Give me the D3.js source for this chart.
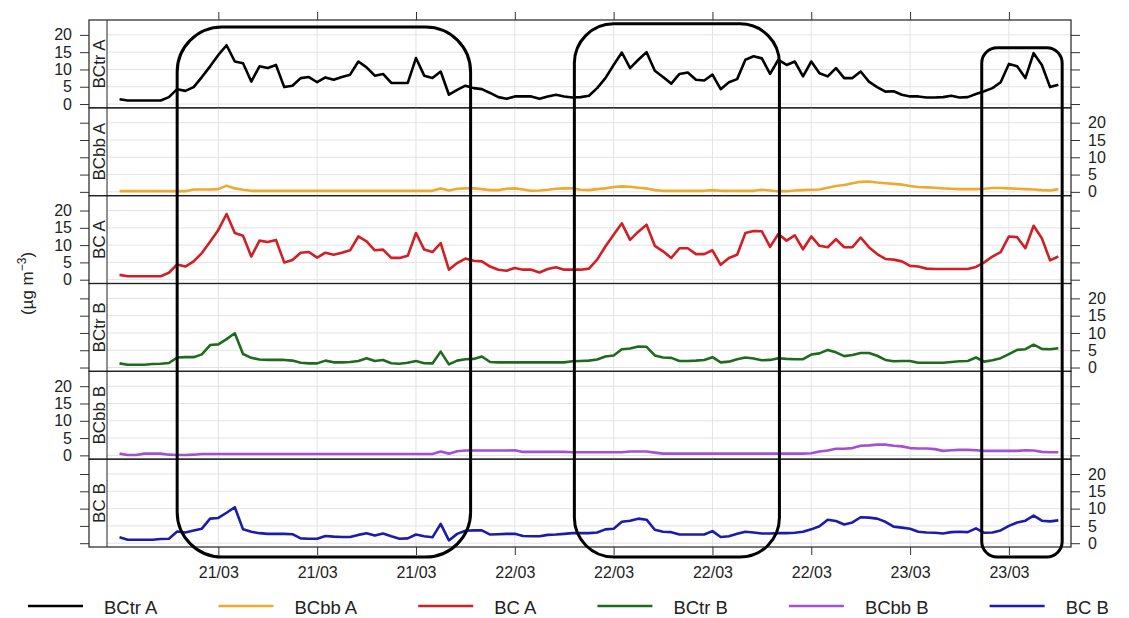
<!DOCTYPE html>
<html>
<head>
<meta charset="utf-8">
<script src="https://cdn.jsdelivr.net/npm/d3@7"></script>
<style>
  body { margin: 0; background: #fff; }
  svg { display: block; }
  text { font-family: "Liberation Sans", Arial, sans-serif; fill: #222; }
</style>
</head>
<body>
<div id="chart"></div>
<script>
// half-hourly values, first one at 21/03 00:00
const startTime = Date.UTC(2019, 2, 21, 0, 0);
const stepMinutes = 30;

const seriesNames = ['BCtr A', 'BCbb A', 'BC A', 'BCtr B', 'BCbb B', 'BC B'];
const seriesColors = ['#000000', '#efa92f', '#d21f26', '#1e6b1e', '#a54fd5', '#1b1bad'];

const bctrA = [1.4,1.0,1.0,1.0,1.0,1.0, 2.0,4.3,3.8,4.9, 7.8,10.9,14.2,17.0, 12.3,11.8,6.5,10.9,
  10.4,11.3,4.9,5.3, 7.5,7.8,6.3,7.7, 7.0,7.8,8.5,12.3, 10.6,8.2,8.7,6.1, 6.1,6.1,13.3,8.2,
  7.5,9.4,2.7,4.1, 5.3,4.6,4.3,3.2, 2.0,1.5,2.2,2.2, 2.2,1.5,2.2,2.7, 2.2,1.9,2.0,2.4,
  4.6,7.5,11.3,14.9, 10.4,12.8,15.0,9.6, 7.8,5.9,8.7,9.1, 7.0,6.8,8.5,4.3, 6.3,7.2,12.8,13.8,
  13.2,8.7,12.8,11.3, 12.3,8.0,12.3,8.9, 8.0,10.4,7.5,7.5, 9.4,6.5,4.9,3.6, 3.7,2.7,2.2,2.2,
  1.9,1.9,2.0,2.4, 1.9,2.0,2.9,3.7, 4.6,6.3,11.6,10.9, 7.5,14.7,11.3,4.9, 5.6];

const bcbbA = [0.2,0.2,0.2,0.2,0.2,0.2, 0.2,0.2,0.2,0.7, 0.7,0.7,0.8,1.8, 1.0,0.6,0.3,0.3,
  0.3,0.3,0.3,0.3, 0.3,0.3,0.3,0.3, 0.3,0.3,0.3,0.3, 0.3,0.3,0.3,0.3, 0.3,0.3,0.3,0.3,
  0.3,1.0,0.4,0.9, 1.0,1.0,0.8,0.5, 0.5,0.9,1.0,0.7, 0.3,0.4,0.6,0.9, 1.0,1.0,0.6,0.5,
  0.8,1.0,1.4,1.6, 1.5,1.2,1.0,0.5, 0.3,0.3,0.3,0.3, 0.3,0.3,0.5,0.3, 0.3,0.3,0.3,0.3,
  0.6,0.4,0.2,0.2, 0.4,0.5,0.6,0.7, 1.2,1.7,2.0,2.5, 2.9,3.0,2.7,2.5, 2.3,2.1,1.7,1.4,
  1.3,1.2,1.0,0.9, 0.8,0.8,0.8,0.9, 1.1,1.1,1.0,0.9, 0.8,0.7,0.5,0.4, 0.8];

const bcA = [1.4,1.0,1.0,1.0,1.0,1.0, 2.0,4.4,3.8,5.3, 7.7,11.0,14.4,19.0, 13.5,12.7,6.7,11.3,
  10.9,11.5,5.0,5.7, 7.8,8.0,6.4,7.8, 7.2,7.8,8.5,12.5, 11.1,8.5,8.7,6.3, 6.3,6.9,13.5,8.7,
  8.0,10.6,2.9,4.8, 6.1,5.5,5.3,3.8, 2.9,2.6,3.4,2.9, 2.9,2.1,3.1,3.6, 2.9,2.9,2.9,3.2,
  5.8,9.6,13.0,16.3, 11.5,13.9,15.9,9.8, 8.2,6.3,9.1,9.1, 7.4,7.4,8.5,4.3, 6.3,7.2,13.5,14.1,
  14.0,9.5,13.2,11.3, 12.8,8.8,12.5,9.8, 9.4,11.7,9.4,9.4, 12.2,9.4,7.4,6.0, 5.8,5.3,4.0,3.8,
  3.2,3.1,3.1,3.1, 3.1,3.1,3.7,5.0, 6.7,8.0,12.5,12.3, 9.1,15.6,12.0,5.6, 6.7];

const bctrB = [1.2,0.8,0.8,0.8,1.0,1.1, 1.3,2.9,3.0,3.0, 3.8,6.5,6.7,8.2, 9.9,3.9,2.8,2.3,
  2.2,2.2,2.2,2.0, 1.4,1.2,1.2,2.0, 1.5,1.5,1.6,1.9, 2.7,1.9,2.2,1.25, 1.1,1.4,1.9,1.25,
  1.2,4.6,0.9,2.0, 2.4,2.5,3.2,1.6, 1.5,1.5,1.5,1.5, 1.5,1.5,1.5,1.5, 1.5,1.8,1.9,2.0,
  2.3,3.2,3.5,5.3, 5.5,6.1,6.0,3.5, 2.9,2.8,1.9,1.9, 2.0,2.2,3.0,1.5, 1.7,2.4,2.9,2.6,
  2.1,2.2,2.7,2.5, 2.4,2.4,3.75,4.1, 5.1,4.4,3.3,3.6, 4.2,4.2,3.4,2.2, 1.8,1.9,1.9,1.4,
  1.4,1.4,1.4,1.6, 1.8,1.9,2.9,1.7, 2.1,2.7,3.9,5.1, 5.3,6.6,5.4,5.3, 5.6];

const bcbbB = [0.5,0.1,0.1,0.5,0.5,0.5, 0.2,0.1,0.1,0.2, 0.4,0.4,0.4,0.4, 0.4,0.4,0.4,0.4,
  0.4,0.4,0.4,0.4, 0.4,0.4,0.4,0.4, 0.4,0.4,0.4,0.4, 0.4,0.4,0.4,0.4, 0.4,0.4,0.4,0.4,
  0.4,1.1,0.5,1.2, 1.4,1.4,1.4,1.4, 1.4,1.4,1.5,1.0, 1.0,1.0,1.0,1.0, 1.0,0.9,0.9,0.9,
  0.9,0.9,0.9,0.9, 1.1,1.1,1.1,0.8, 0.5,0.5,0.5,0.5, 0.5,0.5,0.5,0.5, 0.5,0.5,0.5,0.5,
  0.5,0.5,0.5,0.5, 0.5,0.5,0.6,1.1, 1.4,1.9,1.9,2.1, 2.8,2.9,3.1,3.1, 2.8,2.6,2.1,2.0,
  2.0,1.8,1.3,1.5, 1.6,1.6,1.5,1.3, 1.3,1.3,1.3,1.3, 1.5,1.4,1.0,0.9, 0.9];

const bcB = [1.7,1.0,1.0,1.0,1.0,1.2, 1.3,3.4,3.1,3.7, 4.2,7.1,7.3,8.8, 10.4,4.0,3.3,2.9,
  2.7,2.7,2.7,2.6, 1.4,1.3,1.3,2.1, 1.9,1.8,1.8,2.4, 2.9,2.2,2.8,2.0, 1.3,1.4,2.5,2.0,
  1.7,5.6,0.8,2.7, 3.6,3.7,3.7,2.5, 2.6,2.7,2.7,2.1, 2.0,2.0,2.4,2.5, 2.7,2.9,2.9,2.9,
  3.1,4.0,4.2,6.2, 6.5,7.1,6.8,3.9, 3.3,3.2,2.5,2.5, 2.5,2.5,3.5,1.8, 2.0,2.7,3.3,3.1,
  2.8,2.8,2.9,2.9, 3.0,3.3,4.0,4.9, 6.8,6.4,5.4,6.0, 7.5,7.4,7.1,6.2, 4.8,4.5,4.2,3.3,
  3.1,3.0,2.8,3.2, 3.3,3.2,4.3,3.0, 3.1,3.7,5.0,6.0, 6.5,8.0,6.5,6.3, 6.6];

const seriesValues = [bctrA, bcbbA, bcA, bctrB, bcbbB, bcB];

const xTickTimes = ['2019-03-21T06:00Z', '2019-03-21T12:00Z', '2019-03-21T18:00Z',
  '2019-03-22T00:00Z', '2019-03-22T06:00Z', '2019-03-22T12:00Z', '2019-03-22T18:00Z',
  '2019-03-23T00:00Z', '2019-03-23T06:00Z'];
const yTicks = [0, 5, 10, 15, 20];

// highlighted periods (rounded boxes drawn over all panels)
const highlightFrom = ['2019-03-21T03:30Z', '2019-03-22T03:37Z', '2019-03-23T04:21Z'];
const highlightTo = ['2019-03-21T21:19Z', '2019-03-22T16:04Z', '2019-03-23T09:14Z'];
const highlightTop = [22.3, 23.2, 16.3];

// layout
const width = 1129;
const height = 618;
const frameLeft = 89;
const plotLeft = 107;
const plotRight = 1071;
const plotTop = 20;
const plotBottom = 547;
const panelH = (plotBottom - plotTop) / seriesNames.length;

const hour = 3600 * 1000;
const times = bctrA.map((v, i) => new Date(startTime + i * stepMinutes * 60 * 1000));

const x = d3.scaleUtc()
  .domain([new Date(startTime - 0.76 * hour), new Date(startTime + 57.77 * hour)])
  .range([plotLeft, plotRight]);

const y = d3.scaleLinear().domain([-1.1, 24.3]).range([panelH, 0]);

const svg = d3.select('#chart').append('svg')
  .attr('width', width)
  .attr('height', height);

const tickDates = xTickTimes.map((t) => new Date(t));
const fmt = d3.utcFormat('%d/%m');

const line = d3.line()
  .x((d) => x(d.t))
  .y((d) => y(d.v));

seriesNames.forEach((name, i) => {
  const g = svg.append('g')
    .attr('class', 'panel')
    .attr('transform', `translate(0,${plotTop + i * panelH})`);

  // grid
  g.append('g').selectAll('line.v')
    .data(tickDates)
    .join('line')
    .attr('x1', (d) => x(d)).attr('x2', (d) => x(d))
    .attr('y1', 0).attr('y2', panelH)
    .attr('stroke', '#e3e3e3').attr('stroke-width', 1);

  g.append('g').selectAll('line.h')
    .data(yTicks)
    .join('line')
    .attr('x1', plotLeft).attr('x2', plotRight)
    .attr('y1', (d) => y(d)).attr('y2', (d) => y(d))
    .attr('stroke', '#e3e3e3').attr('stroke-width', 1);

  const pts = seriesValues[i].map((v, j) => ({ t: times[j], v }));
  g.append('path')
    .datum(pts)
    .attr('d', line)
    .attr('fill', 'none')
    .attr('stroke', seriesColors[i])
    .attr('stroke-width', 2.6)
    .attr('stroke-linejoin', 'round');

  // y axes: labels alternate left / right, ticks on both sides
  const labelLeft = i % 2 === 0;
  const left = g.append('g')
    .attr('transform', `translate(${frameLeft},0)`)
    .call(d3.axisLeft(y).tickValues(yTicks).tickSize(9).tickPadding(8)
      .tickFormat(labelLeft ? d3.format('d') : ''));
  const right = g.append('g')
    .attr('transform', `translate(${plotRight},0)`)
    .call(d3.axisRight(y).tickValues(yTicks).tickSize(9).tickPadding(8)
      .tickFormat(labelLeft ? '' : d3.format('d')));
  [left, right].forEach((ax) => {
    ax.select('.domain').remove();
    ax.selectAll('line').attr('stroke', '#333');
    ax.selectAll('text').style('font-size', '16px').attr('fill', '#222');
  });

  // strip + frame
  g.append('line')
    .attr('x1', plotLeft).attr('x2', plotLeft)
    .attr('y1', 0).attr('y2', panelH)
    .attr('stroke', '#222');
  g.append('rect')
    .attr('x', frameLeft).attr('y', 0)
    .attr('width', plotRight - frameLeft).attr('height', panelH)
    .attr('fill', 'none').attr('stroke', '#222').attr('stroke-width', 1.2);

  g.append('text')
    .attr('transform', `translate(${(frameLeft + plotLeft) / 2 + 1},${panelH / 2}) rotate(-90)`)
    .attr('text-anchor', 'middle')
    .attr('dominant-baseline', 'central')
    .style('font-size', '17px')
    .text(name);
});

// top and bottom time axes
const topAxis = svg.append('g')
  .attr('transform', `translate(0,${plotTop})`)
  .call(d3.axisTop(x).tickValues(tickDates).tickSize(8).tickFormat(''));
const bottomAxis = svg.append('g')
  .attr('transform', `translate(0,${plotBottom})`)
  .call(d3.axisBottom(x).tickValues(tickDates).tickSize(8).tickPadding(12).tickFormat(fmt));
[topAxis, bottomAxis].forEach((ax) => {
  ax.select('.domain').remove();
  ax.selectAll('line').attr('stroke', '#333');
  ax.selectAll('text').style('font-size', '16px').attr('fill', '#222');
});

// y title
const yTitle = svg.append('text')
  .attr('transform', `translate(27,${(plotTop + plotBottom) / 2}) rotate(-90)`)
  .attr('text-anchor', 'middle')
  .attr('dominant-baseline', 'central')
  .style('font-size', '17px');
yTitle.append('tspan').text('(\u00b5g m');
yTitle.append('tspan').attr('baseline-shift', '45%').style('font-size', '12px').text('\u22123');
yTitle.append('tspan').text(')');

// highlight boxes
const yTop = (v) => plotTop + y(v);
highlightFrom.forEach((from, i) => {
  const x0 = x(new Date(from));
  const x1 = x(new Date(highlightTo[i]));
  const y0 = yTop(highlightTop[i]);
  const y1 = plotBottom + 10;
  const r = Math.min(45, (x1 - x0) / 5.2);
  svg.append('rect')
    .attr('x', x0).attr('y', y0)
    .attr('width', x1 - x0).attr('height', y1 - y0)
    .attr('rx', r).attr('ry', r)
    .attr('fill', 'none')
    .attr('stroke', '#000')
    .attr('stroke-width', 3);
});

// legend
const legend = svg.append('g').attr('transform', 'translate(0,606)');
let lx = 28;
seriesNames.forEach((name, i) => {
  legend.append('line')
    .attr('x1', lx).attr('x2', lx + 55)
    .attr('y1', 0).attr('y2', 0)
    .attr('stroke', seriesColors[i])
    .attr('stroke-width', 2.6);
  const t = legend.append('text')
    .attr('x', lx + 76)
    .attr('y', 1)
    .attr('dominant-baseline', 'central')
    .style('font-size', '18.5px')
    .text(name);
  lx += 76 + t.node().getComputedTextLength() + 61;
});
</script>
</body>
</html>
